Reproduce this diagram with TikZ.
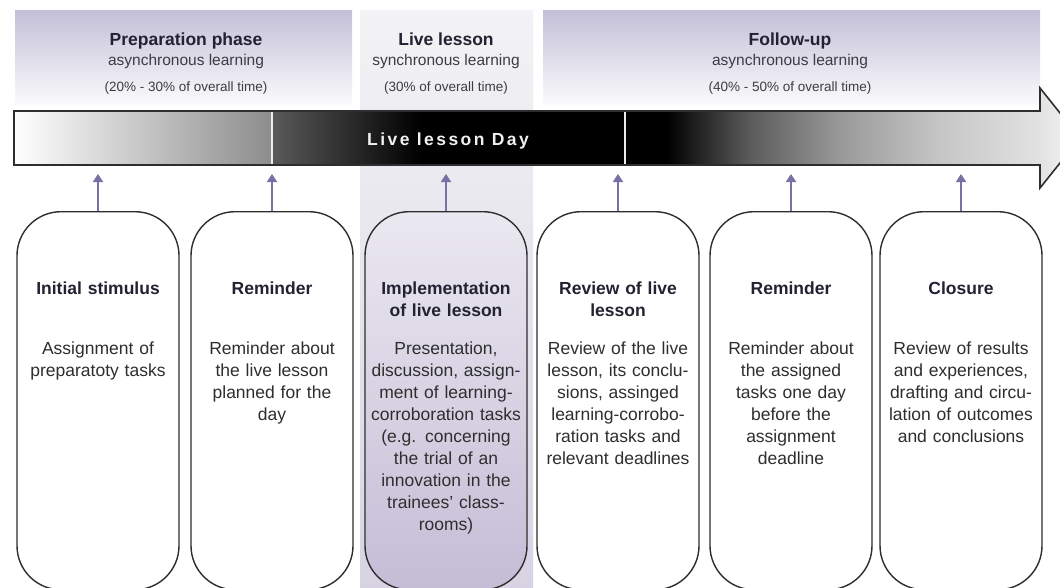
\documentclass[tikz,border=0pt]{standalone}
\usepackage{fontspec}
\setmainfont{Liberation Sans}
\newfontfamily\bannerfont[LetterSpace=14]{Liberation Sans}
\usetikzlibrary{arrows.meta}

\definecolor{headtop}{HTML}{C4BFD8}
\definecolor{headbot}{HTML}{FAFAFB}
\definecolor{bandtop}{HTML}{F3F3F5}
\definecolor{bandbot}{HTML}{D8D3E3}
\definecolor{livetop}{HTML}{EAE8F0}
\definecolor{livebot}{HTML}{C5BCD6}
\definecolor{boxline}{HTML}{2E2E2E}
\definecolor{pointer}{HTML}{7872A4}
\definecolor{titletext}{HTML}{232232}
\definecolor{subtext}{HTML}{3C3C44}
\definecolor{bodytext}{HTML}{2E2E2E}
\definecolor{barmid}{HTML}{8C8C8C}
\definecolor{bardark}{HTML}{5A5A5A}
\definecolor{fadeA}{HTML}{5C5C5C}
\definecolor{fadeB}{HTML}{999999}
\definecolor{fadeC}{HTML}{C6C6C6}
\definecolor{fadeD}{HTML}{E2E2E2}

\begin{document}
\begin{tikzpicture}[x=1pt,y=-1pt,
  phasebox/.style={draw=boxline, line width=1.4pt, rounded corners=44pt,
    minimum width=162pt, minimum height=378pt, inner sep=0pt, anchor=north},
  boxtitle/.style={anchor=north, inner sep=0pt, text width=170pt, align=center,
    text=titletext, font=\fontsize{17.5}{22}\selectfont\bfseries},
  boxbody/.style={anchor=north, inner sep=0pt, text width=170pt, align=center,
    text=bodytext, font=\fontsize{17.5}{22}\selectfont},
  headtitle/.style={anchor=base, inner sep=0pt, text=titletext,
    font=\fontsize{17.5}{20}\selectfont\bfseries},
  headsub/.style={anchor=base, inner sep=0pt, text=subtext,
    font=\fontsize{15.5}{18}\selectfont},
  headpct/.style={anchor=base, inner sep=0pt, text=subtext,
    font=\fontsize{13.5}{16}\selectfont},
  conn/.style={draw=pointer, line width=1.8pt,
    -{Triangle[width=10pt,length=8pt]}}]

\useasboundingbox (0,0) rectangle (1060,587);
\fill[white] (0,0) rectangle (1060,587);

% phase headers and the live-lesson band
\shade[top color=headtop, bottom color=headbot] (15,10) rectangle (352,104);
\shade[top color=headtop, bottom color=headbot] (543,10) rectangle (1040,104);
\shade[top color=bandtop, bottom color=bandbot] (360,10) rectangle (533,587);

\node[headtitle] (p1) at (186,45) {Preparation phase};
\node[headsub]   (p2) at (186,65) {asynchronous learning};
\node[headpct]   (p3) at (186,91) {(20\% - 30\% of overall time)};
\node[headtitle] (l1) at (446,45) {Live lesson};
\node[headsub]   (l2) at (446,65) {synchronous learning};
\node[headpct]   (l3) at (446,91) {(30\% of overall time)};
\node[headtitle] (f1) at (790,45) {Follow-up};
\node[headsub]   (f2) at (790,65) {asynchronous learning};
\node[headpct]   (f3) at (790,91) {(40\% - 50\% of overall time)};

% time line arrow with grey-black-grey fill
\begin{scope}
  \clip (14,111) -- (1040,111) -- (1040,88) -- (1080,138) -- (1040,188)
        -- (1040,165) -- (14,165) -- cycle;
  \shade[left color=white, right color=barmid] (14,80) rectangle (272.5,200);
  \shade[left color=bardark, right color=black] (272,80) rectangle (420.5,200);
  \fill[black] (420,80) rectangle (667.5,200);
  \shade[left color=black, right color=fadeA] (667,80) rectangle (750.5,200);
  \shade[left color=fadeA, right color=fadeB] (750,80) rectangle (840.5,200);
  \shade[left color=fadeB, right color=fadeC] (840,80) rectangle (940.5,200);
  \shade[left color=fadeC, right color=fadeD] (940,80) rectangle (1040.5,200);
  \shade[left color=fadeD, right color=white!97!black] (1040,80) rectangle (1081,200);
\end{scope}
\draw[boxline, line width=1.6pt, line join=miter]
  (14,111) -- (1040,111) -- (1040,88) -- (1080,138) -- (1040,188)
  -- (1040,165) -- (14,165) -- cycle;
\draw[white!92!black, line width=1.6pt] (272,112) -- (272,164);
\draw[white!92!black, line width=1.6pt] (625,112) -- (625,164);
\node[inner sep=0pt, anchor=base, text=white!94!black,
  font=\fontsize{17.5}{20}\selectfont\bannerfont\bfseries] (day) at (448,145) {Live lesson Day};

% activity boxes
\node[phasebox, fill=white] (b1) at (98,211) {};
\node[phasebox, fill=white] (b2) at (272,211) {};
\node[phasebox, top color=livetop, bottom color=livebot] (b3) at (446,211) {};
\node[phasebox, fill=white] (b4) at (618,211) {};
\node[phasebox, fill=white] (b5) at (791,211) {};
\node[phasebox, fill=white] (b6) at (961,211) {};

% pointers from the boxes up to the time line
\coordinate (tips) at (0,174);
\foreach \b in {b1,b2,b3,b4,b5,b6}
  \draw[conn] (\b.north) -- (\b.north |- tips);

% box texts
\node[boxtitle] (t1) at (98,282)  {Initial stimulus};
\node[boxtitle] (t2) at (272,282) {Reminder};
\node[boxtitle] (t3) at (446,282) {Implementation\\of live lesson};
\node[boxtitle] (t4) at (618,282) {Review of live\\lesson};
\node[boxtitle] (t5) at (791,282) {Reminder};
\node[boxtitle] (t6) at (961,282) {Closure};

\node[boxbody] (d1) at (98,342)  {Assignment of\\preparatoty tasks};
\node[boxbody] (d2) at (272,342) {Reminder about\\the live lesson\\planned for the\\day};
\node[boxbody] (d3) at (446,342) {Presentation,\\discussion, assign-\\ment of learning-\\corroboration tasks\\(e.g. concerning\\the trial of an\\innovation in the\\trainees' class-\\rooms)};
\node[boxbody] (d4) at (618,342) {Review of the live\\lesson, its conclu-\\sions, assinged\\learning-corrobo-\\ration tasks and\\relevant deadlines};
\node[boxbody] (d5) at (791,342) {Reminder about\\the assigned\\tasks one day\\before the\\assignment\\deadline};
\node[boxbody] (d6) at (961,342) {Review of results\\and experiences,\\drafting and circu-\\lation of outcomes\\and conclusions};

\end{tikzpicture}
\end{document}
